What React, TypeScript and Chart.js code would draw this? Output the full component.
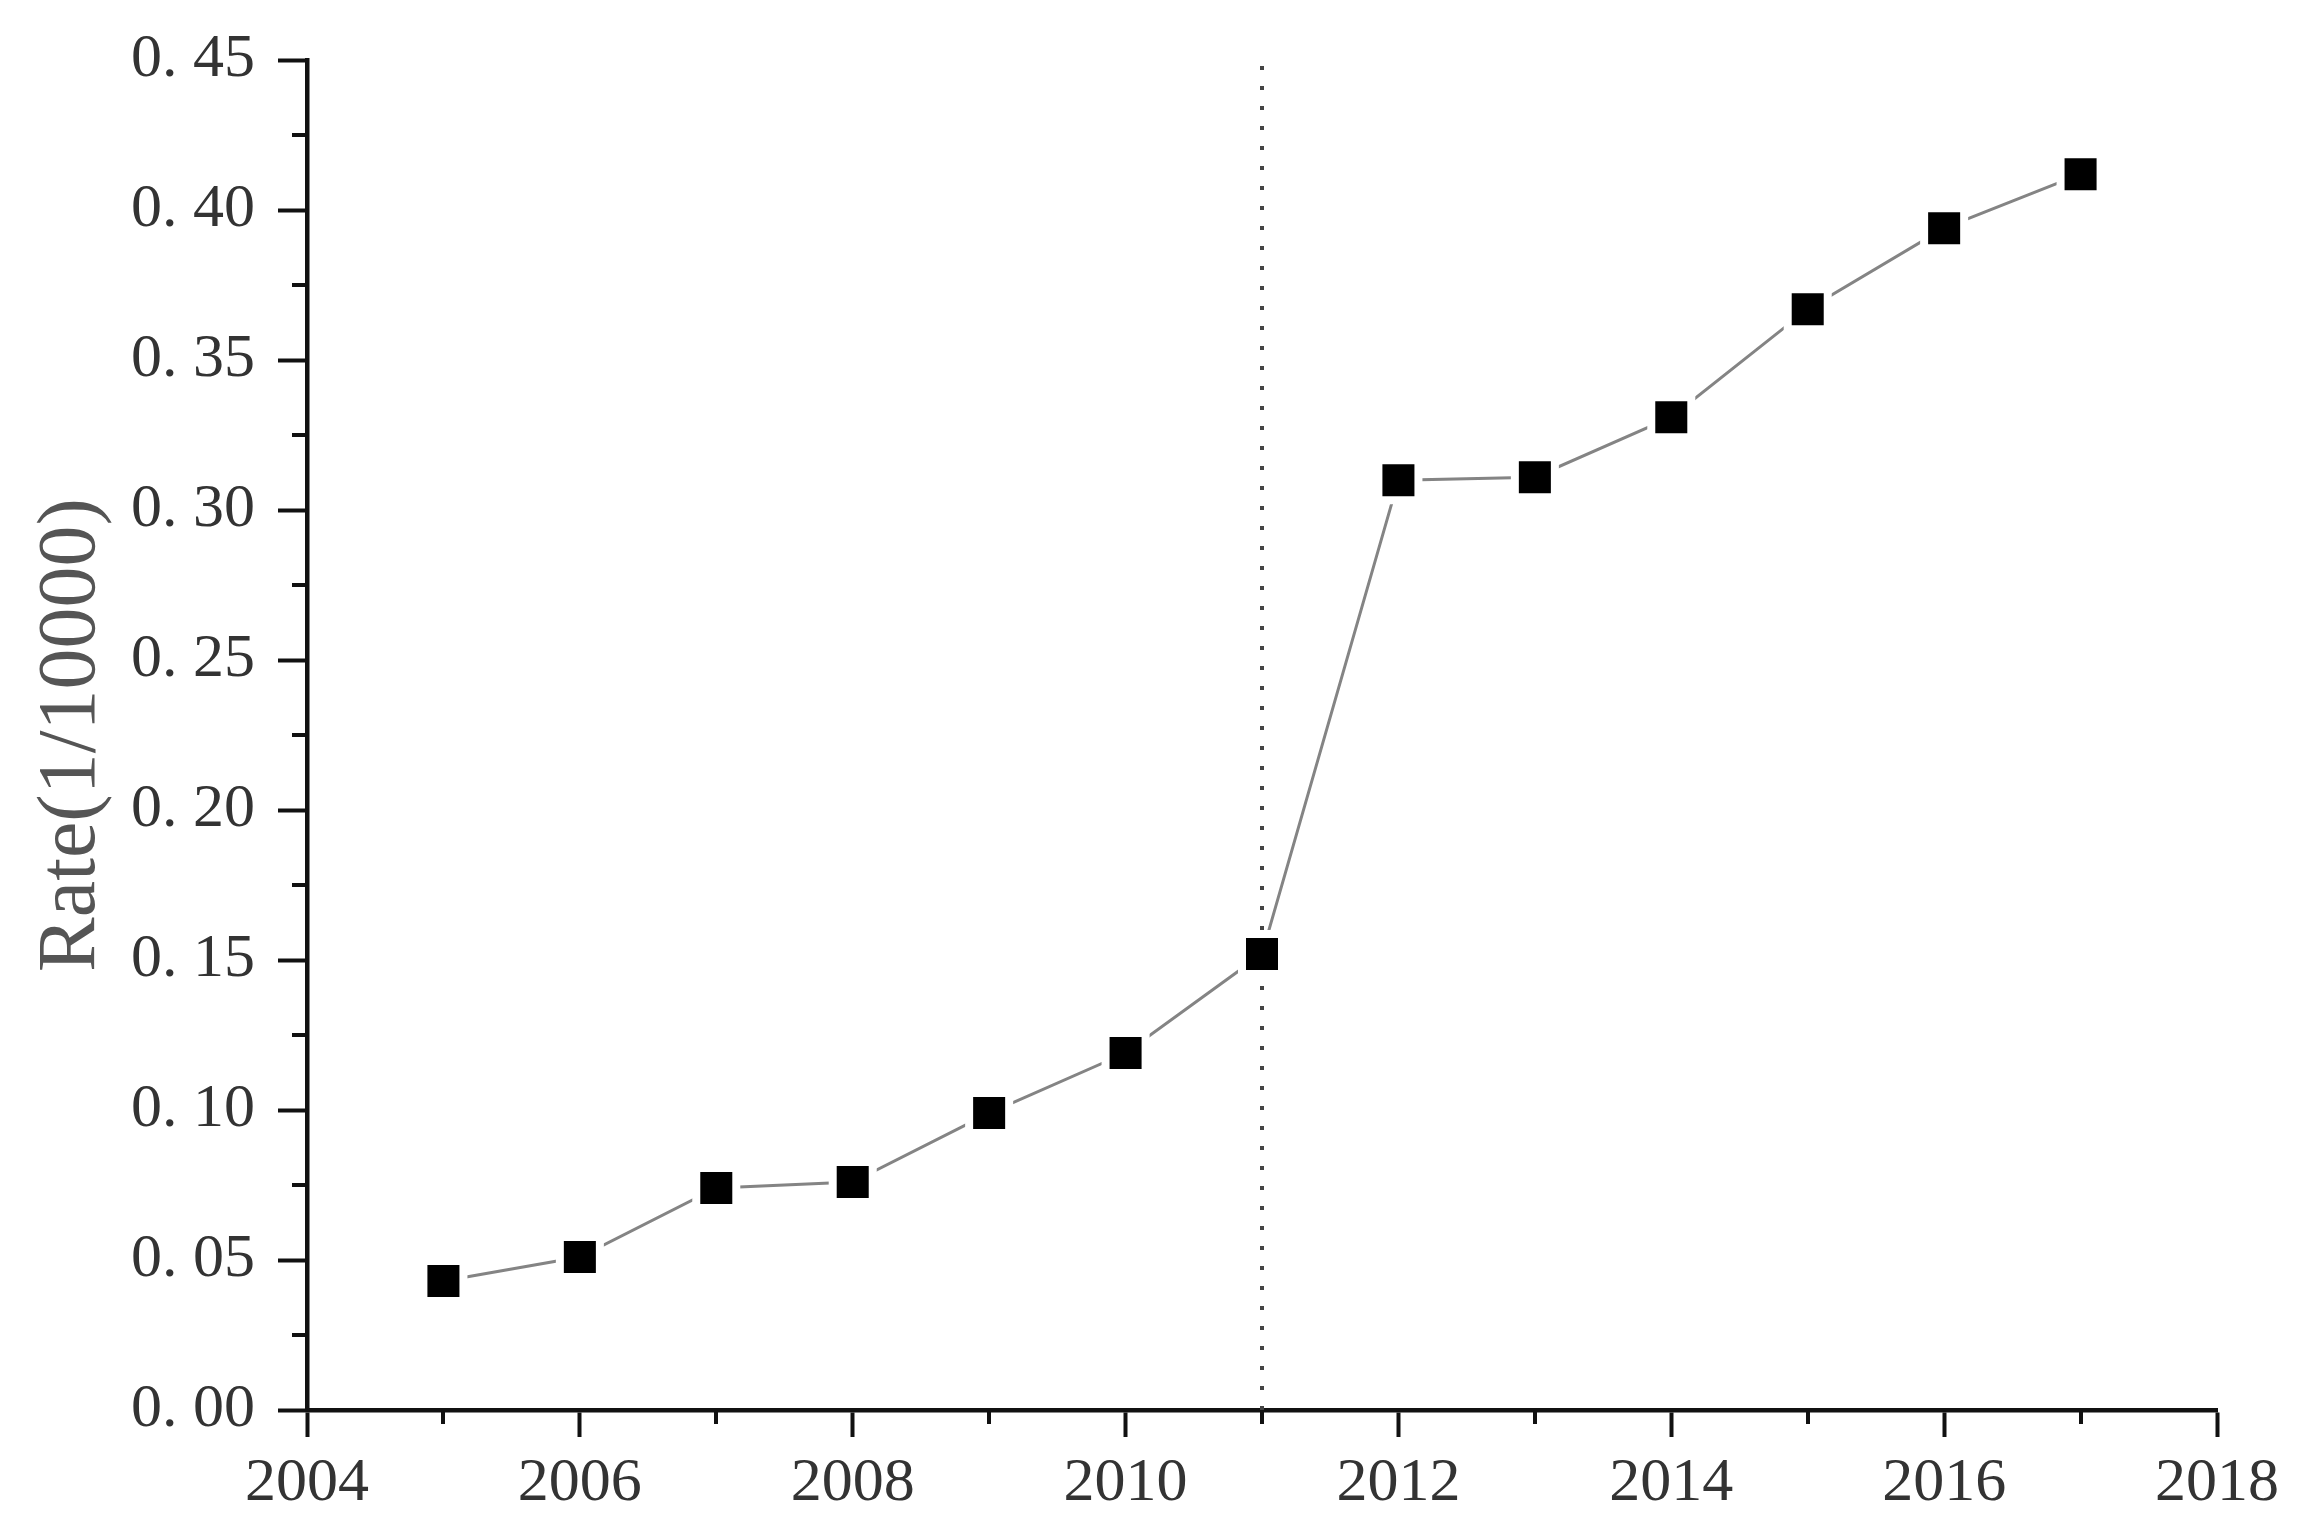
import React, { useEffect, useRef } from "react";
import { Chart, registerables } from "chart.js";

Chart.register(...registerables);

// ---- data ----
const years = [2005, 2006, 2007, 2008, 2009, 2010, 2011, 2012, 2013, 2014, 2015, 2016, 2017];
const rates = [0.043, 0.051, 0.074, 0.076, 0.099, 0.119, 0.152, 0.31, 0.311, 0.331, 0.367, 0.394, 0.412];
const markerYear = 2011;

const xTickLabels = ["2004", "2006", "2008", "2010", "2012", "2014", "2016", "2018"];
const xTickValues = [2004, 2006, 2008, 2010, 2012, 2014, 2016, 2018];
const yTickLabels = ["0. 00", "0. 05", "0. 10", "0. 15", "0. 20", "0. 25", "0. 30", "0. 35", "0. 40", "0. 45"];
const yTickValues = [0, 0.05, 0.1, 0.15, 0.2, 0.25, 0.3, 0.35, 0.4, 0.45];
const xMinorTicks = [2005, 2007, 2009, 2011, 2013, 2015, 2017];
const yMinorTicks = [0.025, 0.075, 0.125, 0.175, 0.225, 0.275, 0.325, 0.375, 0.425];
const yAxisTitle = "Rate(1/10000)";

const FONT = "'Liberation Serif', 'Times New Roman', serif";
const AXIS_COLOR = "#111111";

const minorTickPlugin = {
  id: "minorTicks",
  afterDraw(chart: any) {
    const ctx = chart.ctx;
    const xs = chart.scales.x;
    const ys = chart.scales.y;
    ctx.save();
    ctx.strokeStyle = AXIS_COLOR;
    ctx.lineWidth = 4;
    ctx.beginPath();
    const yb = ys.getPixelForValue(0);
    xMinorTicks.forEach((v) => {
      const px = Math.round(xs.getPixelForValue(v));
      ctx.moveTo(px, yb);
      ctx.lineTo(px, yb + 14);
    });
    const xl = xs.getPixelForValue(2004);
    yMinorTicks.forEach((v) => {
      const py = Math.round(ys.getPixelForValue(v));
      ctx.moveTo(xl, py);
      ctx.lineTo(xl - 15, py);
    });
    ctx.stroke();
    ctx.restore();
  },
};

export default function App() {
  const ref = useRef<HTMLCanvasElement | null>(null);

  useEffect(() => {
    if (!ref.current) return;
    const chart = new Chart(ref.current, {
      type: "line",
      data: {
        datasets: [
          {
            label: "divider",
            data: [
              { x: markerYear, y: yTickValues[0] },
              { x: markerYear, y: yTickValues[yTickValues.length - 1] },
            ],
            borderColor: "#444444",
            borderWidth: 4,
            borderDash: [4, 16],
            pointRadius: 0,
            order: 2,
          },
          {
            label: "Rate",
            data: years.map((y, i) => ({ x: y, y: rates[i] })),
            borderColor: "#848484",
            borderWidth: 3,
            pointStyle: "rect",
            pointRadius: 28.3,
            pointBackgroundColor: "#000000",
            pointBorderColor: "#ffffff",
            pointBorderWidth: 8,
            order: 1,
          },
        ],
      },
      options: {
        animation: false,
        responsive: false,
        events: [],
        layout: { padding: { top: 60, right: 98, left: 0, bottom: 0 } },
        plugins: {
          legend: { display: false },
          tooltip: { enabled: false },
        },
        scales: {
          x: {
            type: "linear",
            min: xTickValues[0],
            max: xTickValues[xTickValues.length - 1],
            afterBuildTicks: (scale: any) => {
              scale.ticks = xTickValues.map((v) => ({ value: v }));
            },
            afterFit: (scale: any) => {
              scale.height = 127;
            },
            ticks: {
              callback: (v: any) => xTickLabels[xTickValues.indexOf(Number(v))] ?? "",
              font: { family: FONT, size: 62 },
              color: "#333333",
              padding: 10,
              maxRotation: 0,
              autoSkip: false,
            },
            grid: {
              display: true,
              drawOnChartArea: false,
              drawTicks: true,
              tickLength: 27,
              tickWidth: 4,
              tickColor: AXIS_COLOR,
            },
            border: { display: true, color: AXIS_COLOR, width: 4.5 },
          },
          y: {
            type: "linear",
            min: yTickValues[0],
            max: yTickValues[yTickValues.length - 1],
            afterBuildTicks: (scale: any) => {
              scale.ticks = yTickValues.map((v) => ({ value: v }));
            },
            afterFit: (scale: any) => {
              scale.width = 307;
            },
            ticks: {
              callback: (v: any) => yTickLabels[Math.round(Number(v) / 0.05)] ?? "",
              font: { family: FONT, size: 62 },
              color: "#333333",
              padding: 23,
              autoSkip: false,
            },
            grid: {
              display: true,
              drawOnChartArea: false,
              drawTicks: true,
              tickLength: 29,
              tickWidth: 4,
              tickColor: AXIS_COLOR,
            },
            border: { display: true, color: AXIS_COLOR, width: 4.5 },
            title: {
              display: true,
              text: yAxisTitle,
              font: { family: FONT, size: 82 },
              color: "#555555",
              padding: { top: 23, bottom: 0 },
            },
          },
        },
      },
      plugins: [minorTickPlugin],
    });
    return () => chart.destroy();
  }, []);

  return (
    <div style={{ position: "fixed", left: 0, top: 0, width: 2315, height: 1537, background: "#ffffff" }}>
      <canvas ref={ref} width={2315} height={1537} style={{ display: "block" }} />
    </div>
  );
}
